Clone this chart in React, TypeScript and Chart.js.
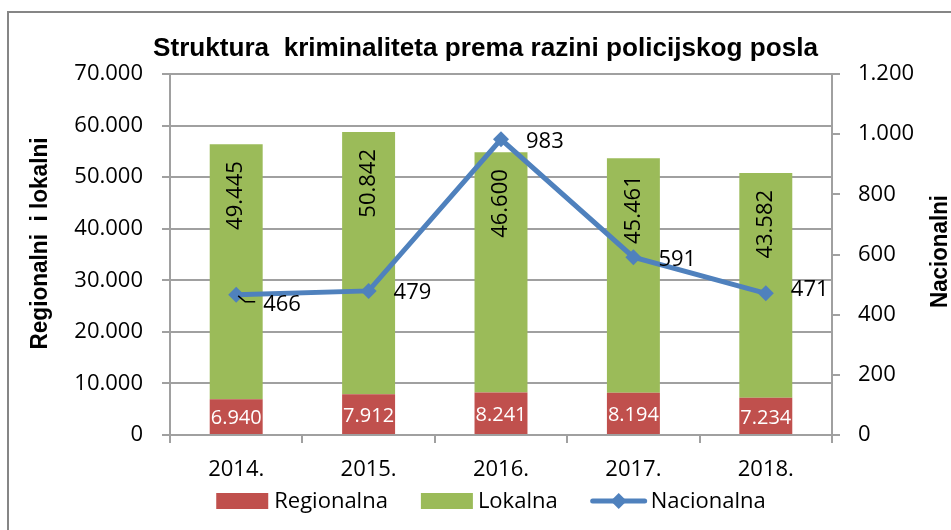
import React, { useEffect, useRef } from 'react';
import { Chart, registerables } from 'chart.js';

Chart.register(...registerables);

const categories = ['2014.', '2015.', '2016.', '2017.', '2018.'];
const regionalna = [6940, 7912, 8241, 8194, 7234];
const lokalna = [49445, 50842, 46600, 45461, 43582];
const nacionalna = [466, 479, 983, 591, 471];

const leftMax = 70000;
const leftStep = 10000;
const rightMax = 1200;
const rightStep = 200;

const chartTitle = 'Struktura  kriminaliteta prema razini policijskog posla';
const leftAxisTitle = 'Regionalni  i lokalni';
const rightAxisTitle = 'Nacionalni';

// vertical nudges of the Nacionalna labels (Excel's label placement)
const nacLabelDy = [10, 2, 2, 3, -4];

const RED = '#C0504D';
const GREEN = '#9BBB59';
const BLUE = '#4F81BD';
const GRID = '#a0a0a0';
const FONT = '"Open Sans", "Noto Sans", sans-serif';
const BOLD = '"Liberation Sans", Arial, sans-serif';

const fmt = (n: number) => String(Math.round(n)).replace(/\B(?=(\d{3})+(?!\d))/g, '.');

function drawFitted(ctx: CanvasRenderingContext2D, text: string, cx: number, cy: number, width: number, rot: number) {
  const w = ctx.measureText(text).width;
  const sx = width / w;
  ctx.save();
  ctx.translate(cx, cy);
  ctx.rotate(rot);
  ctx.scale(sx, 1);
  ctx.textAlign = 'center';
  ctx.textBaseline = 'alphabetic';
  ctx.fillText(text, 0, 0);
  ctx.restore();
}

function metaByLabel(chart: any, label: string) {
  const idx = chart.data.datasets.findIndex((d: any) => d.label === label);
  return chart.getDatasetMeta(idx);
}

const decorPlugin = {
  id: 'decor',
  afterDatasetsDraw(chart: any) {
    const ctx: CanvasRenderingContext2D = chart.ctx;
    ctx.save();
    // Regionalna labels
    const m0 = metaByLabel(chart, 'Regionalna');
    ctx.font = `20px ${FONT}`;
    ctx.fillStyle = '#ffffff';
    ctx.textAlign = 'center';
    ctx.textBaseline = 'middle';
    m0.data.forEach((bar: any, i: number) => {
      ctx.fillText(fmt(regionalna[i]), bar.x, (bar.y + bar.base) / 2 + 2);
    });
    // Lokalna labels rotated
    const m1 = metaByLabel(chart, 'Lokalna');
    ctx.font = `22px ${FONT}`;
    ctx.fillStyle = '#000000';
    m1.data.forEach((bar: any, i: number) => {
      ctx.save();
      ctx.translate(bar.x, bar.y + 17);
      ctx.rotate(-Math.PI / 2);
      ctx.textAlign = 'right';
      ctx.textBaseline = 'middle';
      ctx.fillText(fmt(lokalna[i]), 0, 0);
      ctx.restore();
    });
    // Nacionalna labels
    const m2 = metaByLabel(chart, 'Nacionalna');
    ctx.textAlign = 'left';
    ctx.textBaseline = 'middle';
    m2.data.forEach((pt: any, i: number) => {
      const dy = nacLabelDy[i];
      if (i === 0) {
        ctx.strokeStyle = '#000';
        ctx.lineWidth = 1.5;
        ctx.beginPath();
        ctx.moveTo(pt.x + 2, pt.y + 1);
        ctx.lineTo(pt.x + 9, pt.y + 7);
        ctx.lineTo(pt.x + 19, pt.y + 7);
        ctx.stroke();
        ctx.fillText(fmt(nacionalna[i]), pt.x + 27, pt.y + dy);
      } else {
        ctx.fillText(fmt(nacionalna[i]), pt.x + 25, pt.y + dy);
      }
    });
    ctx.restore();
  },
  afterDraw(chart: any) {
    const ctx: CanvasRenderingContext2D = chart.ctx;
    const area = chart.chartArea;
    ctx.save();
    // outer frame
    ctx.strokeStyle = '#868686';
    ctx.lineWidth = 2;
    ctx.strokeRect(8, 12, 1000, 600);
    // title
    ctx.fillStyle = '#000';
    ctx.font = `bold 25px ${BOLD}`;
    drawFitted(ctx, chartTitle, 485.5, 56, 665, 0);
    // axis titles
    ctx.font = `bold 24px ${BOLD}`;
    drawFitted(ctx, leftAxisTitle, 47, (area.top + area.bottom) / 2 - 11, 212, -Math.PI / 2);
    drawFitted(ctx, rightAxisTitle, 947, 251.5, 113, -Math.PI / 2);
    // legend
    const ds = chart.data.datasets;
    ctx.font = `22px ${FONT}`;
    ctx.textBaseline = 'middle';
    ctx.textAlign = 'left';
    const items = [
      { kind: 'box', color: RED, text: ds[1].label },
      { kind: 'box', color: GREEN, text: ds[2].label },
      { kind: 'line', color: BLUE, text: ds[0].label },
    ];
    const symW = [52, 52, 56];
    const symGap = [6, 5, 4];
    const itemGap = 33;
    let total = 0;
    items.forEach((it, i) => {
      total += symW[i] + symGap[i] + ctx.measureText(it.text).width;
    });
    total += itemGap * 2;
    let x = 491 - total / 2;
    const cy = 501;
    items.forEach((it, i) => {
      if (it.kind === 'box') {
        ctx.fillStyle = it.color;
        ctx.fillRect(x, cy - 8, symW[i], 16);
      } else {
        ctx.strokeStyle = it.color;
        ctx.lineWidth = 5;
        ctx.lineCap = 'round';
        ctx.beginPath();
        ctx.moveTo(x + 2, cy);
        ctx.lineTo(x + symW[i] - 2, cy);
        ctx.stroke();
        ctx.fillStyle = it.color;
        const mx = x + symW[i] / 2;
        ctx.beginPath();
        ctx.moveTo(mx, cy - 8);
        ctx.lineTo(mx + 8, cy);
        ctx.lineTo(mx, cy + 8);
        ctx.lineTo(mx - 8, cy);
        ctx.closePath();
        ctx.fill();
      }
      x += symW[i] + symGap[i];
      ctx.fillStyle = '#000';
      ctx.fillText(it.text, x, cy + 1);
      x += ctx.measureText(it.text).width + itemGap;
    });
    ctx.restore();
  },
};

export default function App() {
  const ref = useRef<HTMLCanvasElement>(null);
  useEffect(() => {
    if (!ref.current) return;
    const chart = new Chart(ref.current, {
      type: 'bar',
      data: {
        labels: categories,
        datasets: [
          {
            type: 'line',
            label: 'Nacionalna',
            data: nacionalna,
            yAxisID: 'y1',
            borderColor: BLUE,
            backgroundColor: BLUE,
            borderWidth: 5,
            pointStyle: 'rectRot',
            pointRadius: 8,
            pointBorderWidth: 0,
            pointBackgroundColor: BLUE,
            tension: 0,
            order: 0,
          } as any,
          {
            type: 'bar',
            label: 'Regionalna',
            data: regionalna,
            yAxisID: 'y',
            backgroundColor: RED,
            barPercentage: 0.4,
            categoryPercentage: 1,
            order: 1,
          },
          {
            type: 'bar',
            label: 'Lokalna',
            data: lokalna,
            yAxisID: 'y',
            backgroundColor: GREEN,
            barPercentage: 0.4,
            categoryPercentage: 1,
            order: 1,
          },
        ],
      },
      options: {
        responsive: false,
        animation: false,
        layout: { padding: { top: 74, left: 0, right: 0, bottom: 0 } },
        plugins: {
          legend: { display: false },
          title: { display: false },
          tooltip: { enabled: false },
        },
        scales: {
          x: {
            stacked: true,
            offset: true,
            grid: { offset: true, drawOnChartArea: false, drawTicks: true, tickLength: 8, color: GRID, lineWidth: 2 },
            border: { color: GRID, width: 2 },
            ticks: { font: { family: FONT, size: 22 }, color: '#000', padding: 14, maxRotation: 0 },
            afterFit: (s: any) => { s.height = 95; },
          },
          y: {
            stacked: true,
            position: 'left',
            min: 0,
            max: leftMax,
            grid: { color: GRID, lineWidth: 2, tickLength: 8 },
            border: { color: GRID, width: 2 },
            ticks: {
              stepSize: leftStep,
              font: { family: FONT, size: 22 },
              color: '#000',
              padding: 19,
              callback: (v: any) => fmt(Number(v)),
            },
            afterFit: (s: any) => { s.width = 170; },
          },
          y1: {
            position: 'right',
            min: 0,
            max: rightMax,
            grid: { drawOnChartArea: false, color: GRID, lineWidth: 2, tickLength: 8 },
            border: { color: GRID, width: 2 },
            ticks: {
              stepSize: rightStep,
              font: { family: FONT, size: 22 },
              color: '#000',
              padding: 18,
              callback: (v: any) => fmt(Number(v)),
            },
            afterFit: (s: any) => { s.width = 119; },
          },
        },
      },
      plugins: [decorPlugin],
    });
    return () => chart.destroy();
  }, []);
  return (
    <div style={{ position: 'fixed', left: 0, top: 0, width: 951, height: 530, background: '#fff' }}>
      <canvas ref={ref} width={951} height={530} style={{ display: 'block' }} />
    </div>
  );
}
